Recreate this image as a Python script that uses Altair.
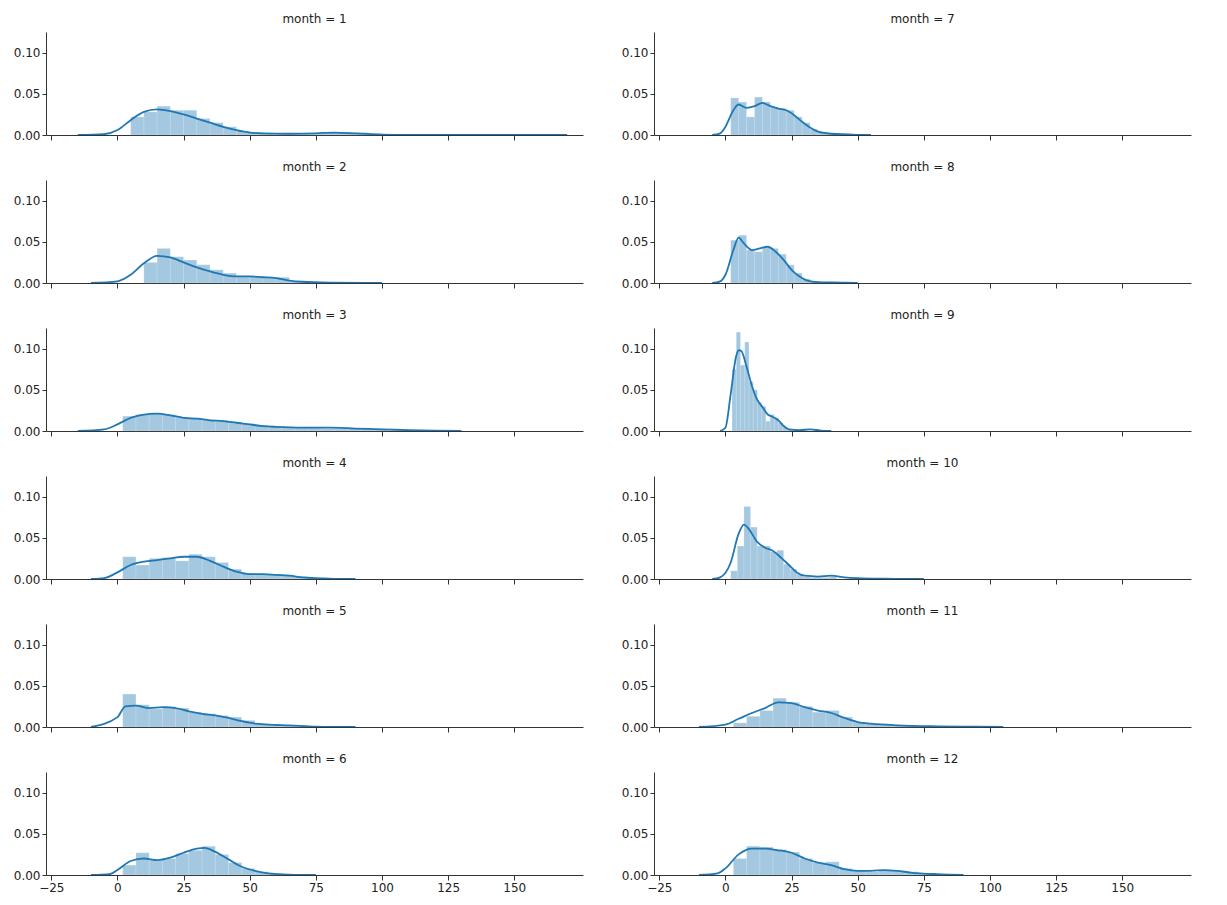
import altair as alt
import pandas as pd

# histogram: (start, width, heights) ; kde: (xs, ys)
hist = {
 1: (5, 5, [0.022,0.028,0.035,0.030,0.030,0.020,0.015,0.010,0.005,0.003,0.002,0.002,0.002,0.002,0.002,0.003,0.003,0.003,0.002]),
 2: (10, 5, [0.025,0.042,0.032,0.028,0.022,0.016,0.012,0.008,0.008,0.007,0.007,0.002,0.001]),
 3: (2, 5, [0.018,0.020,0.022,0.020,0.017,0.016,0.014,0.013,0.011,0.009,0.007,0.005,0.004,0.004,0.004,0.003,0.003,0.003,0.003,0.002]),
 4: (2, 5, [0.027,0.017,0.025,0.026,0.022,0.030,0.027,0.020,0.012,0.007,0.006,0.006,0.005,0.003,0.002]),
 5: (2, 5, [0.040,0.027,0.022,0.025,0.023,0.018,0.016,0.014,0.012,0.008,0.004,0.003,0.002,0.001]),
 6: (2, 5, [0.012,0.027,0.018,0.020,0.026,0.030,0.035,0.025,0.015,0.008,0.004,0.002]),
 7: (2, 3, [0.045,0.040,0.022,0.046,0.040,0.034,0.032,0.030,0.022,0.015,0.007,0.004,0.002,0.001]),
 8: (2, 3, [0.052,0.058,0.040,0.038,0.043,0.042,0.035,0.022,0.012,0.005,0.002,0.001]),
 9: (2.5, 1.6, [0.075,0.120,0.080,0.108,0.060,0.050,0.035,0.030,0.012,0.020,0.016,0.010,0.005,0.002]),
 10: (2, 2.5, [0.010,0.040,0.088,0.063,0.040,0.040,0.033,0.035,0.018,0.012,0.006,0.003,0.002,0.002,0.002,0.003]),
 11: (3, 5, [0.005,0.013,0.020,0.035,0.030,0.025,0.018,0.020,0.012,0.006,0.004,0.003,0.002,0.002,0.001,0.001,0.001,0.001,0.001]),
 12: (3, 5, [0.020,0.035,0.034,0.031,0.028,0.020,0.015,0.016,0.008,0.005,0.004,0.006,0.005,0.004,0.002,0.001]),
}
kde = {
 1: ([-15,-5,0,5,10,15,20,25,30,35,40,45,50,55,65,75,82,90,100,110,170],
     [0,0.001,0.006,0.018,0.028,0.031,0.029,0.025,0.020,0.015,0.010,0.006,0.003,0.002,0.0015,0.002,0.003,0.002,0.0005,0,0]),
 2: ([-10,0,5,10,15,20,25,30,35,40,45,50,55,60,65,70,80,100],
     [0,0.002,0.010,0.024,0.033,0.031,0.025,0.019,0.014,0.010,0.008,0.008,0.007,0.006,0.003,0.0015,0.0005,0]),
 3: ([-15,-5,0,5,10,15,20,25,30,35,40,45,50,55,60,70,80,90,100,110,120,130],
     [0,0.002,0.008,0.016,0.020,0.021,0.019,0.016,0.015,0.013,0.012,0.010,0.008,0.006,0.005,0.004,0.004,0.003,0.002,0.001,0.0003,0]),
 4: ([-10,-5,0,5,10,15,20,25,30,35,40,45,50,55,60,65,70,80,90],
     [0,0.001,0.008,0.017,0.021,0.023,0.025,0.027,0.027,0.022,0.015,0.009,0.006,0.006,0.005,0.004,0.002,0.0005,0]),
 5: ([-10,0,3,7,12,17,22,27,32,37,42,47,52,57,65,75,90],
     [0,0.012,0.025,0.026,0.023,0.024,0.023,0.019,0.016,0.014,0.011,0.007,0.004,0.003,0.002,0.0005,0]),
 6: ([-10,-3,0,5,10,15,20,25,30,33,37,42,47,52,57,65,75],
     [0,0.001,0.006,0.017,0.020,0.018,0.021,0.027,0.032,0.033,0.028,0.019,0.010,0.005,0.002,0.0005,0]),
 7: ([-5,-2,0,3,5,8,11,14,17,20,23,26,29,32,35,40,50,55],
     [0,0.002,0.010,0.030,0.037,0.033,0.035,0.039,0.035,0.032,0.030,0.024,0.016,0.009,0.004,0.0015,0.0002,0]),
 8: ([-5,-2,0,3,5,7,10,13,16,19,22,25,28,31,35,45,50],
     [0,0.002,0.010,0.040,0.055,0.048,0.040,0.042,0.044,0.038,0.028,0.016,0.008,0.003,0.001,0.0005,0]),
 9: ([-2,0,2,4,5,6,8,10,12,14,16,18,20,22,24,28,32,36,40],
     [0,0.004,0.045,0.090,0.098,0.097,0.078,0.055,0.038,0.029,0.020,0.017,0.013,0.006,0.002,0.001,0.002,0.0005,0]),
 10: ([-5,-2,2,5,7,9,12,15,18,21,24,27,30,35,40,45,50,60,75],
      [0,0.002,0.020,0.055,0.066,0.060,0.045,0.038,0.034,0.026,0.017,0.008,0.004,0.003,0.004,0.002,0.001,0.0003,0]),
 11: ([-10,0,5,10,15,20,25,30,35,40,45,50,55,65,80,95,105],
      [0,0.003,0.010,0.017,0.023,0.030,0.029,0.024,0.020,0.017,0.011,0.006,0.004,0.002,0.0008,0.0003,0]),
 12: ([-10,-3,0,5,10,15,20,25,30,35,40,45,50,55,60,65,70,80,90],
      [0,0.002,0.008,0.025,0.032,0.032,0.030,0.027,0.020,0.015,0.012,0.007,0.005,0.005,0.006,0.005,0.003,0.001,0]),
}

BLUE = "#1f77b4"
XDOM = [-27, 176]

def panel(m, bottom):
    s, w, hs = hist[m]
    hdf = pd.DataFrame({"x0": [s + i * w for i in range(len(hs))],
                        "x1": [s + (i + 1) * w for i in range(len(hs))],
                        "h": hs})
    kx, ky = kde[m]
    kdf = pd.DataFrame({"x": kx, "y": ky})
    xax = alt.Axis(values=[-25, 0, 25, 50, 75, 100, 125, 150], labels=bottom, title=None,
                   grid=False, domainColor="#333", tickColor="#333", labelColor="#222",
                   labelFontSize=12, tickSize=5)
    yax = alt.Axis(values=[0, 0.05, 0.1], format=".2f", title=None, grid=False,
                   domainColor="#333", tickColor="#333", labelColor="#222",
                   labelFontSize=12, tickSize=4)
    xs = alt.Scale(domain=XDOM, nice=False, zero=False)
    ys = alt.Scale(domain=[0, 0.125], nice=False)
    bars = alt.Chart(hdf).mark_rect(color=BLUE, opacity=0.4, stroke="white", strokeWidth=0.2).encode(
        x=alt.X("x0:Q", scale=xs, axis=xax), x2="x1:Q",
        y=alt.Y("h:Q", scale=ys, axis=yax), y2=alt.datum(0))
    line = alt.Chart(kdf).mark_line(color=BLUE, strokeWidth=1.8, clip=True,
                                    interpolate="monotone").encode(
        x=alt.X("x:Q", scale=xs), y=alt.Y("y:Q", scale=ys))
    return alt.layer(bars, line).properties(
        width=537, height=103,
        title=alt.TitleParams(f"month = {m}", fontSize=12, fontWeight="normal",
                              color="#222", offset=6))

rows = []
for r in range(6):
    rows.append(alt.hconcat(panel(r + 1, r == 5), panel(r + 7, r == 5), spacing=38))
chart = (alt.vconcat(*rows, spacing=20)
         .configure_view(stroke=None)
         .configure_axis(labelFont="DejaVu Sans")
         .configure_title(font="DejaVu Sans"))
chart.save("out.html", embed_options={"renderer": "svg", "actions": False})
